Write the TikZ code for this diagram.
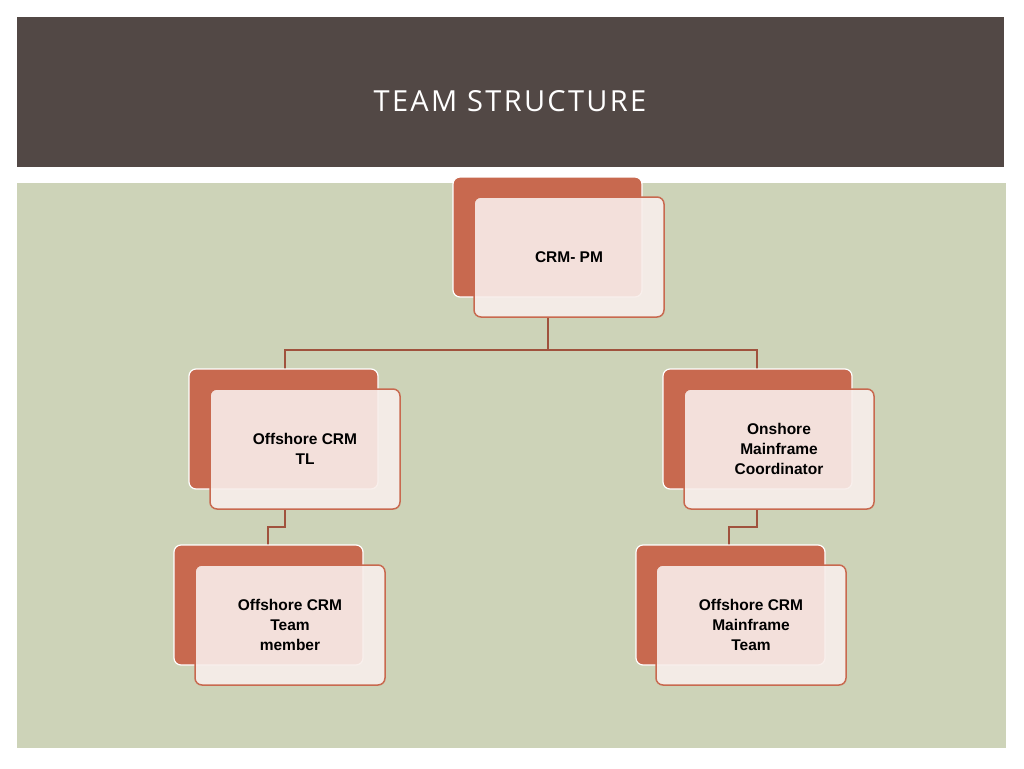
\documentclass[tikz,border=0pt]{standalone}
\usepackage{fontspec}
\setmainfont{Liberation Sans}
\newfontfamily\titlefont[LetterSpace=8]{Open Sans}
\definecolor{bar}{HTML}{524845}
\definecolor{bg}{HTML}{CDD3B8}
\definecolor{rust}{HTML}{C8694F}
\definecolor{pale}{HTML}{F8EEEB}
\definecolor{lineC}{HTML}{A0523D}
\begin{document}
\begin{tikzpicture}[x=1pt,y=-1pt,
 back/.style={fill=rust,draw=white,line width=1.2pt,rounded corners=7pt},
 front/.style={fill=pale,fill opacity=0.9,draw=rust,line width=1.5pt,rounded corners=7pt},
 lbl/.style={font=\bfseries\fontsize{15.5}{20}\selectfont,align=center,text=black},
 conn/.style={draw=lineC,line width=1.5pt}]
\useasboundingbox (0,0) rectangle (1024,768);
\fill[white] (0,0) rectangle (1024,768);
\fill[bar] (17,17) rectangle (1004,167);
\node[text=white,font=\titlefont\fontsize{29}{34}\selectfont] (title) at (510,101) {TEAM STRUCTURE};
\fill[bg] (17,183) rectangle (1006,748);
% connectors
\coordinate (pmb) at (548,317);
\coordinate (hl) at (285,350);
\coordinate (hr) at (757,350);
\draw[conn] (pmb) -- (548,350) -- (hl) -- (285,369);
\draw[conn] (548,350) -- (hr) -- (757,369);
\draw[conn] (285,509) -- (285,527) -- (268,527) -- (268,545);
\draw[conn] (757,509) -- (757,527) -- (729,527) -- (729,545);
% boxes
\newcommand{\mybox}[6]{%
 \draw[back] (#1,#2) rectangle ++(189,120);
 \draw[front] (#3,#4) rectangle ++(190,120);
 \node[lbl] (#6) at (#3+95,#4+60) {#5};}
\mybox{453}{177}{474}{197}{CRM- PM}{pm}
\mybox{189}{369}{210}{389}{Offshore CRM\\TL}{tl}
\mybox{663}{369}{684}{389}{Onshore\\Mainframe\\Coordinator}{on}
\mybox{174}{545}{195}{565}{Offshore CRM\\Team\\member}{tm}
\mybox{636}{545}{656}{565}{Offshore CRM\\Mainframe\\Team}{mt}
\end{tikzpicture}
\end{document}
